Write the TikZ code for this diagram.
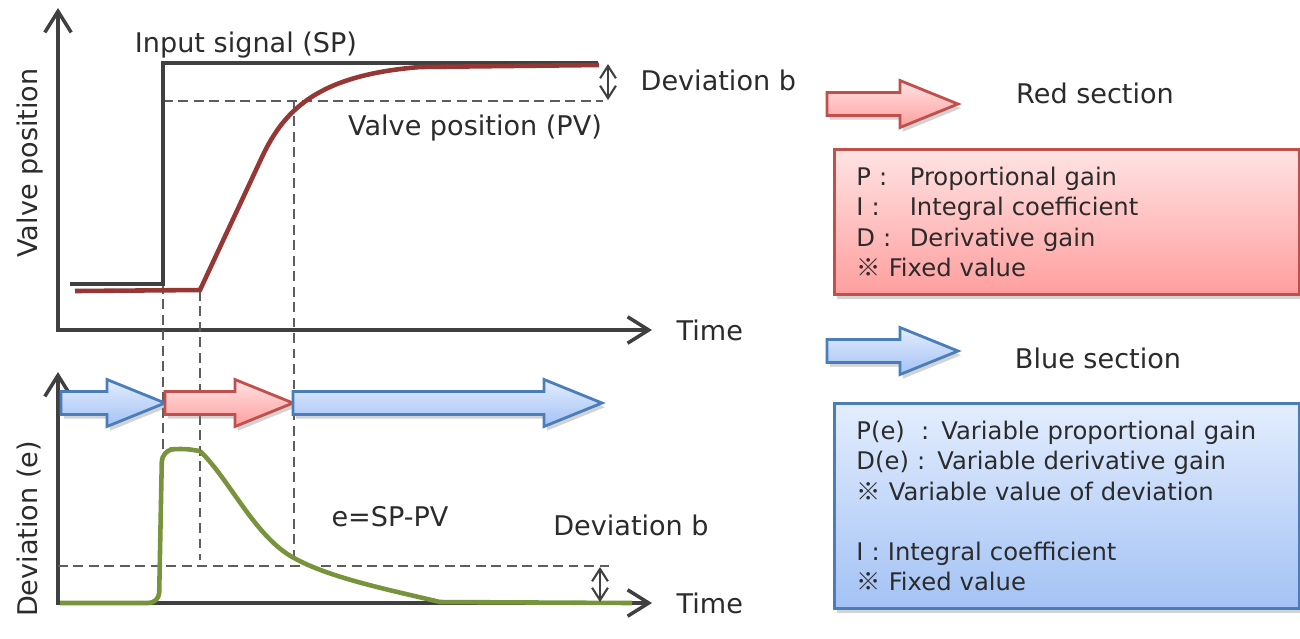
\documentclass[tikz,border=0pt]{standalone}
\usepackage{fontspec}
\setmainfont{DejaVu Sans}
\newfontfamily\cjk{Noto Sans CJK JP}
\usetikzlibrary{arrows.meta,positioning,shadows}

\definecolor{axisgray}{HTML}{404040}
\definecolor{textgray}{HTML}{2B2B2B}
\definecolor{pvred}{HTML}{953735}
\definecolor{errgreen}{HTML}{77933C}
\definecolor{rededge}{HTML}{C0504D}
\definecolor{redtop}{HTML}{FFE3E3}
\definecolor{redbot}{HTML}{FF9E9E}
\definecolor{blueedge}{HTML}{4A7EBB}
\definecolor{bluetop}{HTML}{E3EDFE}
\definecolor{bluebot}{HTML}{A3C2F4}

\newcommand{\refmark}{{\cjk ※}}
% fat arrow: style, start x, tip x, centre y
\newcommand{\fatarrow}[4]{%
  \path[#1] (#2,#4-11.5) -- (#3-58,#4-11.5) -- (#3-58,#4-23.5) -- (#3,#4)
    -- (#3-58,#4+23.5) -- (#3-58,#4+11.5) -- (#2,#4+11.5) -- cycle;}

\begin{document}
\begin{tikzpicture}[x=0.01cm, y=-0.01cm,
    axis/.style={draw=axisgray, line width=1pt, -{Straight Barb[length=6pt, width=7.5pt]}},
    guide/.style={draw=axisgray!85, line width=0.6pt, dash pattern=on 2.8pt off 1.6pt},
    gap/.style={draw=axisgray, line width=0.6pt, {Straight Barb[length=3.5pt, width=4.5pt]}-{Straight Barb[length=3.5pt, width=4.5pt]}},
    lbl/.style={text=textgray, inner sep=0pt, font=\fontsize{7.7}{9}\selectfont},
    boxtext/.style={text=textgray, font=\fontsize{6.9}{8.54}\selectfont, align=left},
    redfill/.style={draw=rededge, line width=0.8pt, top color=redtop, bottom color=redbot,
      drop shadow={shadow xshift=0.8pt, shadow yshift=-1.2pt, opacity=0.35}},
    bluefill/.style={draw=blueedge, line width=0.8pt, top color=bluetop, bottom color=bluebot,
      drop shadow={shadow xshift=0.8pt, shadow yshift=-1.2pt, opacity=0.35}}]
  \useasboundingbox (0,0) rectangle (1300,638);

  % Axes
  \coordinate (o1) at (58,330);
  \coordinate (ytop1) at (58,8);
  \coordinate (xend1) at (652,330);
  \coordinate (o2) at (58,603);
  \coordinate (ytop2) at (58,372);
  \coordinate (xend2) at (652,603);
  \draw[axis] ([yshift=-0.5pt]o1) -- (ytop1);
  \draw[axis] ([xshift=-0.5pt]o1) -- (xend1);
  \draw[axis] ([yshift=-0.5pt]o2) -- (ytop2);
  \draw[axis] ([xshift=-0.5pt]o2) -- (xend2);

  % Guide lines
  \draw[guide] (163,101) -- (603,101);
  \draw[guide] (58,566) -- (610,566);
  \draw[guide] (163,284) -- (163,450);
  \draw[guide] (200,291) -- (200,560);
  \draw[guide] (294,101) -- (294,557);

  % Input signal and valve position
  \draw[axisgray, line width=1pt] (70,284) -- (163,284) -- (163,63) -- (598,63);
  \draw[pvred, line width=1.3pt] (75,291) -- (200,290) -- (262,157)
    .. controls (285,108) and (320,75) .. (420,67) -- (599,65);

  % Deviation
  \draw[errgreen, line width=1.3pt, rounded corners=3pt] (60,603) -- (159,603) -- (162,451)
    -- (180,448) -- (200,451);
  \draw[errgreen, line width=1.3pt] (200,451) .. controls (230,480) and (255,537) .. (294,558)
    .. controls (330,578) and (390,590) .. (440,602) -- (632,603);

  % Deviation b markers
  \draw[gap] (608,64) -- (608,100);
  \draw[gap] (600,567) -- (600,602);

  % Section arrows
  \fatarrow{bluefill}{61}{165}{403}
  \fatarrow{redfill}{165}{293}{403}
  \fatarrow{bluefill}{293}{602}{403}

  % Labels
  \node[lbl] (sp) at (246,45) {Input signal (SP)};
  \node[lbl] (pv) at (475,128) {Valve position (PV)};
  \node[lbl, anchor=west] (devb1) at (640,80) {Deviation b};
  \node[lbl] (devb2) at (631,525) {Deviation b};
  \node[lbl] (eq) at (390,517) {e=SP-PV};
  \node[lbl, anchor=west, right=0.24cm of xend1] (time1) {Time};
  \node[lbl, anchor=west, right=0.24cm of xend2] (time2) {Time};
  \node[lbl, rotate=90] (vlab) at (30,163) {Valve position};
  \node[lbl, rotate=90] (dlab) at (29,529) {Deviation (e)};

  % Legend
  \fatarrow{redfill}{827}{958}{104}
  \node[lbl] (redsec) at (1095,93) {Red section};
  \node[boxtext, redfill, anchor=north west, minimum width=4.65cm, minimum height=1.45cm,
    text width=4.21cm, inner xsep=0.22cm] (redbox) at (833,148)
    {\makebox[2.2em][l]{P :}Proportional gain\\
     \makebox[2.2em][l]{I :}Integral coefficient\\
     \makebox[2.2em][l]{D :}Derivative gain\\
     \refmark{} Fixed value};

  \fatarrow{bluefill}{827}{958}{351}
  \node[lbl] (bluesec) at (1098,358) {Blue section};
  \node[boxtext, bluefill, anchor=north west, minimum width=4.65cm, minimum height=2.05cm,
    text width=4.21cm, inner xsep=0.22cm] (bluebox) at (833,402)
    {P(e)\ \ : Variable proportional gain\\
     D(e) : Variable derivative gain\\
     \refmark{} Variable value of deviation\\
     \strut\\
     I : Integral coefficient\\
     \refmark{} Fixed value};
\end{tikzpicture}
\end{document}
